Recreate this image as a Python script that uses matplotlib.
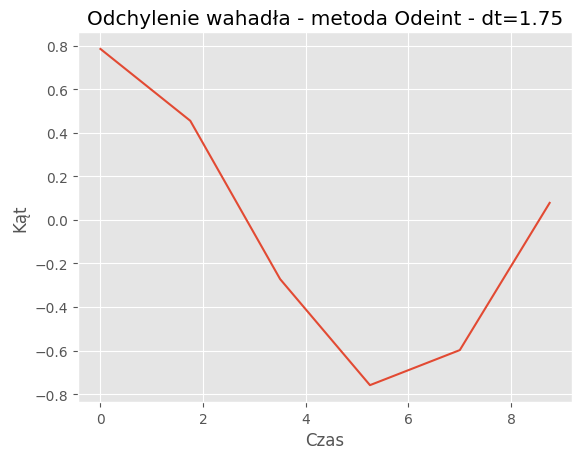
import matplotlib
matplotlib.use("Agg")
import matplotlib.pyplot as plt

plt.style.use('ggplot')

czas = [0.0, 1.75, 3.5, 5.25, 7.0, 8.75]
kat = [0.785, 0.455, -0.272, -0.759, -0.598, 0.078]

fig = plt.figure(figsize=(5.82, 4.6), dpi=100)
fig.subplots_adjust(left=0.134, right=0.983, top=0.928, bottom=0.124)
plt.plot(czas, kat)
plt.title('Odchylenie wahadła - metoda Odeint - dt=1.75')
plt.xlabel('Czas')
plt.ylabel('Kąt')
plt.savefig('out.png')
